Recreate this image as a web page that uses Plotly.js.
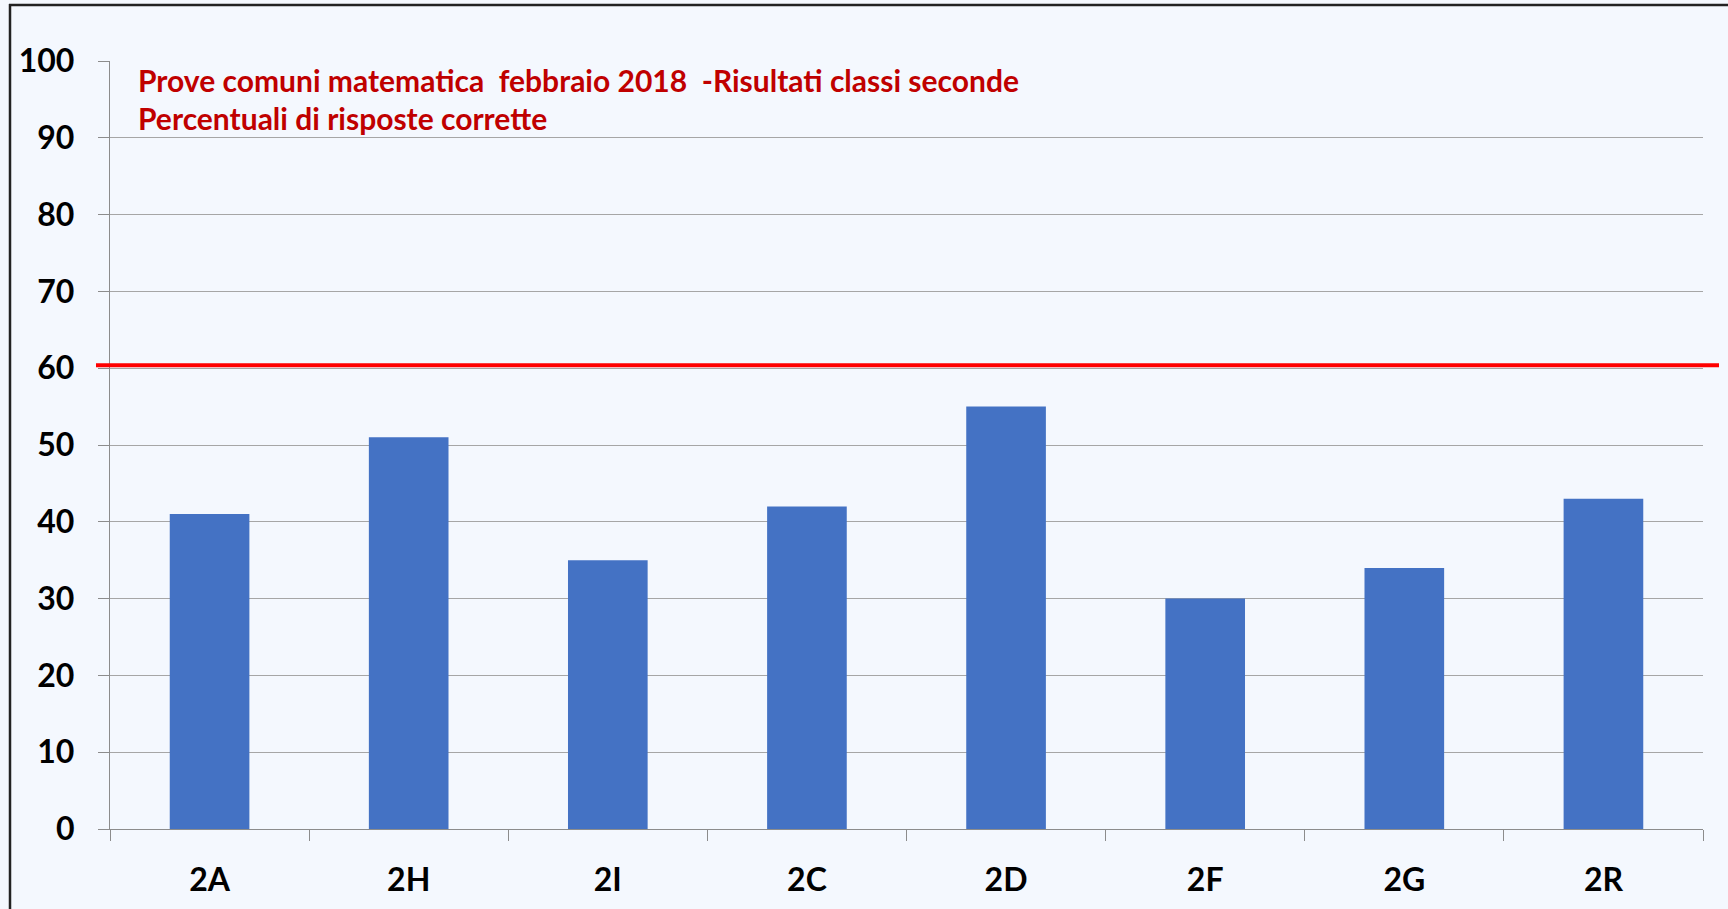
<!DOCTYPE html>
<html>
<head>
<meta charset="utf-8">
<script src="https://cdn.plot.ly/plotly-3.0.1.min.js"></script>
<style>
html,body{margin:0;padding:0;background:#F4F8FE;}
#chart{width:1728px;height:909px;}
</style>
</head>
<body>
<div id="chart"></div>
<script>
const classes = ["2A", "2H", "2I", "2C", "2D", "2F", "2G", "2R"];
const percentCorrect = [41, 51, 35, 42, 55, 30, 34, 43];
const thresholdValue = 60.4;
const yTickValues = [0, 10, 20, 30, 40, 50, 60, 70, 80, 90, 100];
const titleLine1 = "Prove comuni matematica&nbsp; febbraio 2018 &nbsp;-Risultati classi seconde";
const titleLine2 = "Percentuali di risposte corrette";

const W = 1728, H = 909;
const L = 110, R = 25, T = 61, B = 80;
const pw = W - L - R, ph = H - T - B;
const px = x => (x - L) / pw;
const py = y => 1 - (y - T) / ph;

const FONT = "Lato, 'Open Sans', sans-serif";

const trace = {
  type: "bar",
  x: classes,
  y: percentCorrect,
  marker: {color: "#4472C4", line: {width: 0}},
  hoverinfo: "x+y"
};

const layout = {
  width: W, height: H,
  margin: {l: L, r: R, t: T, b: B, pad: 0},
  paper_bgcolor: "#F4F8FE",
  plot_bgcolor: "#F4F8FE",
  showlegend: false,
  bargap: 0.6,
  font: {family: FONT, color: "#000000"},
  xaxis: {
    type: "category",
    tickson: "boundaries",
    ticks: "outside",
    ticklen: 11,
    tickwidth: 1.3,
    tickcolor: "#8C8C8C",
    showline: true,
    linecolor: "#8C8C8C",
    linewidth: 1.3,
    showgrid: false,
    zeroline: false,
    tickfont: {family: FONT, size: 32, color: "#000000", weight: "bold"},
    ticklabelstandoff: 22,
    fixedrange: true
  },
  yaxis: {
    range: [0, 100],
    tickvals: yTickValues,
    ticktext: yTickValues.map(String),
    ticks: "outside",
    ticklen: 11,
    tickwidth: 1.3,
    tickcolor: "#8C8C8C",
    showline: true,
    linecolor: "#8C8C8C",
    linewidth: 1.3,
    showgrid: true,
    gridcolor: "#A6A6A6",
    gridwidth: 1.3,
    zeroline: false,
    tickfont: {family: FONT, size: 32, color: "#000000", weight: "bold"},
    ticklabelstandoff: 17,
    fixedrange: true
  },
  shapes: [
    {type: "line", xref: "paper", yref: "y", x0: px(96), x1: px(1719), y0: thresholdValue, y1: thresholdValue,
     line: {color: "#FF0000", width: 4}},
    {type: "line", xref: "paper", yref: "paper", x0: px(10), x1: px(10), y0: py(4), y1: py(912),
     line: {color: "#222222", width: 2.5}},
    {type: "line", xref: "paper", yref: "paper", x0: px(9), x1: px(1730), y0: py(5), y1: py(5),
     line: {color: "#222222", width: 2.5}}
  ],
  annotations: [
    {text: titleLine1, xref: "paper", yref: "paper", x: px(136), y: py(80), xanchor: "left", yanchor: "middle",
     showarrow: false, font: {family: FONT, size: 30, color: "#C00000", weight: "bold"}},
    {text: titleLine2, xref: "paper", yref: "paper", x: px(136), y: py(118), xanchor: "left", yanchor: "middle",
     showarrow: false, font: {family: FONT, size: 30, color: "#C00000", weight: "bold"}}
  ]
};

Plotly.newPlot("chart", [trace], layout, {displayModeBar: false, staticPlot: false});
</script>
</body>
</html>
